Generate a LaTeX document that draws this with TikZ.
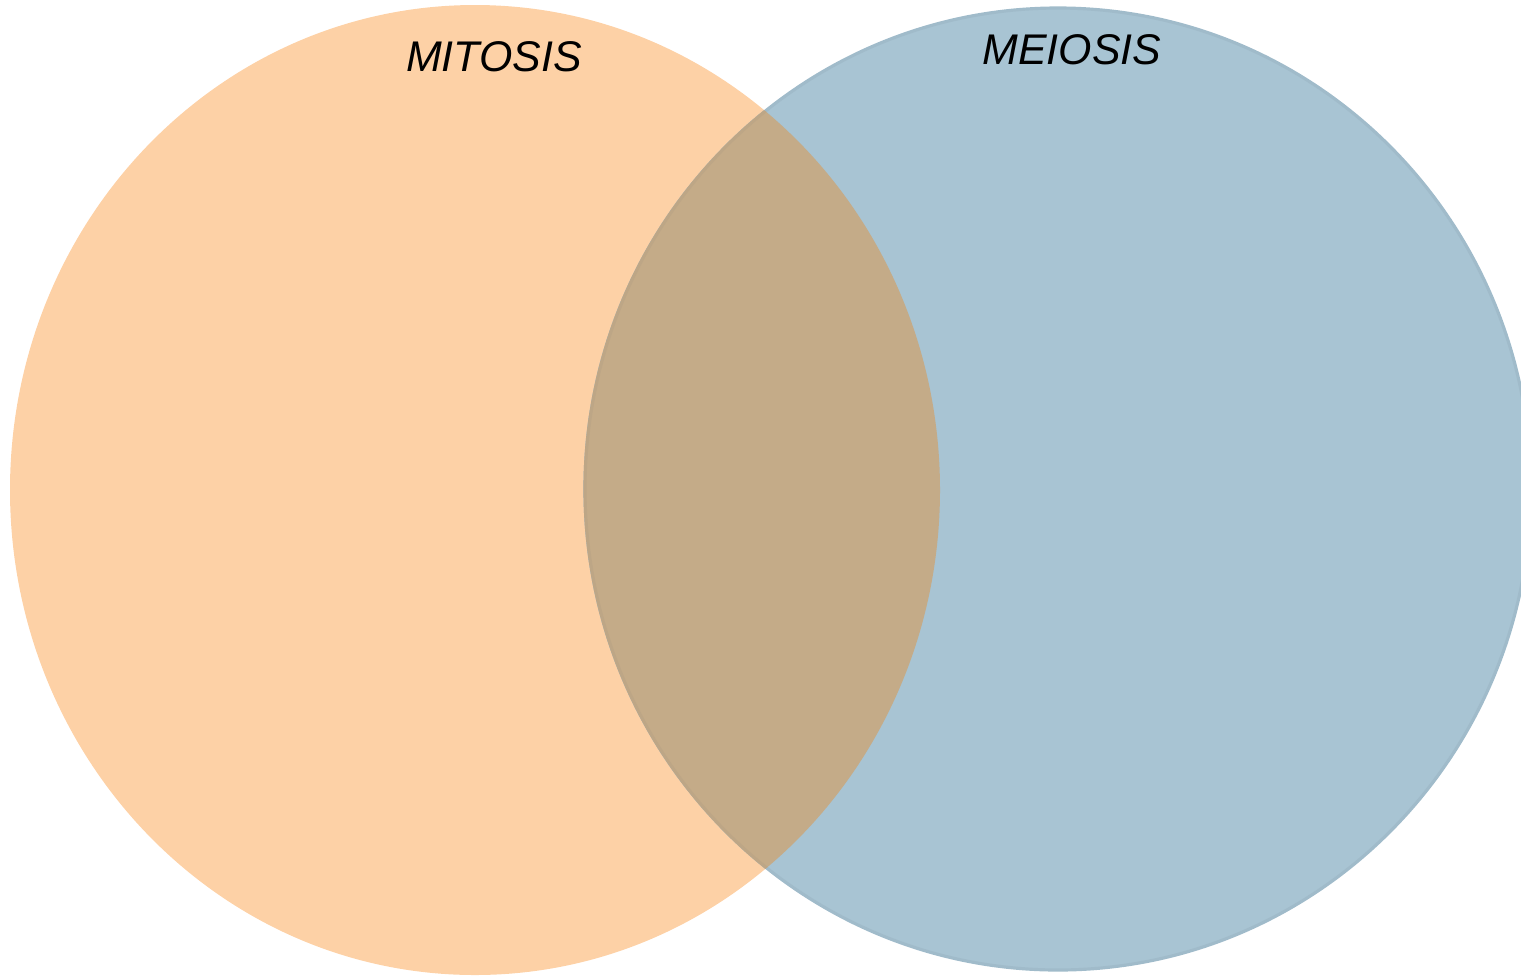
\documentclass[tikz,border=0pt]{standalone}
\usepackage{fontspec}
\setmainfont{Liberation Sans}
\definecolor{mitosisfill}{RGB}{253,209,166}
\definecolor{meiosisfill}{RGB}{168,196,211}
\definecolor{meiosisedge}{RGB}{160,187,202}
\definecolor{sharedfill}{RGB}{196,171,136}
\definecolor{sharededge}{RGB}{189,166,134}
\begin{document}
\begin{tikzpicture}[x=0.01cm,y=-0.01cm,
  setlabel/.style={font=\fontsize{12.2}{14}\selectfont\itshape, text=black, inner sep=0pt}]
  \useasboundingbox (0,0) rectangle (1521,975);
  % the two sets
  \def\mitosisset{(475,490) ellipse [x radius=465, y radius=485]}
  \def\meiosisset{(1058,489) ellipse [x radius=473, y radius=481]}
  \fill[mitosisfill] \mitosisset;
  \fill[meiosisfill] \meiosisset;
  \draw[meiosisedge, line width=0.9pt] \meiosisset;
  % shared region
  \begin{scope}
    \clip \mitosisset;
    \fill[sharedfill] \meiosisset;
    \draw[sharededge, line width=0.9pt] \meiosisset;
  \end{scope}
  % set names
  \node[setlabel] (mitosis) at (494,57) {MITOSIS};
  \node[setlabel] (meiosis) at (1072,50) {MEIOSIS};
\end{tikzpicture}
\end{document}
